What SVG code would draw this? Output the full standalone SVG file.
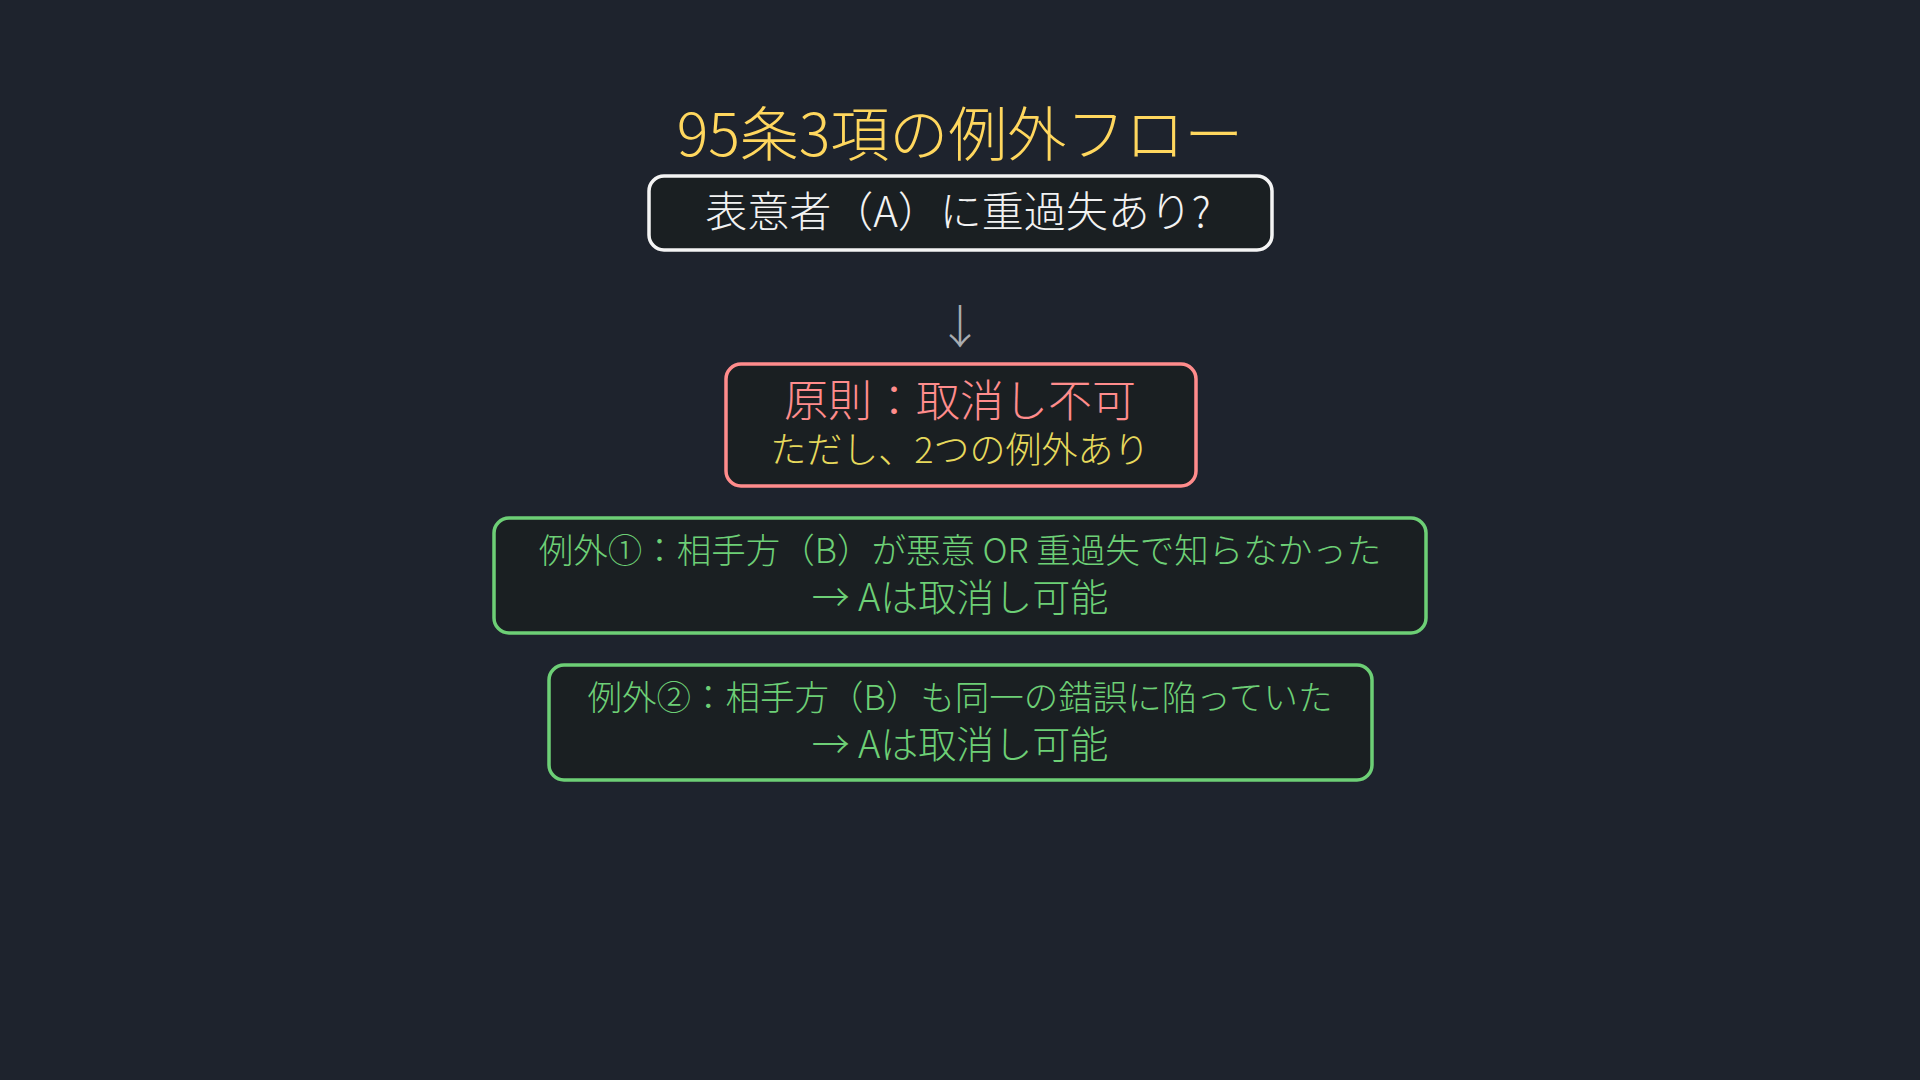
<svg xmlns="http://www.w3.org/2000/svg" width="1920" height="1080" viewBox="0 0 1920 1080">
<style>
text{font-family:"Noto Sans CJK JP","Noto Sans",sans-serif;text-anchor:middle;font-weight:300}
.box{fill:#1a1f22;stroke-width:3.5}
.title{font-size:59px;fill:#ffd75e}
.q{font-size:42px;fill:#f2f2f2}
.red{font-size:44px;fill:#ff8c8c}
.yel{font-size:36px;fill:#e6d95c}
.g1{font-size:34.5px;fill:#6dcf76}
.g2{font-size:38px;fill:#6dcf76}
.arr{font-size:46px;fill:#a8acb0}
</style>
<rect width="1920" height="1080" fill="#1e232d"/>
<g id="title"><text class="title" x="960" y="156">95条3項の例外フロー</text></g>
<g id="question">
<rect class="box" x="649" y="176" width="623" height="74" rx="15" stroke="#f4f4f4"/>
<text class="q" x="958" y="227">表意者（A）に重過失あり?</text>
</g>
<g id="connectors"><text class="arr" x="960" y="343">↓</text></g>
<g id="principle">
<rect class="box" x="726" y="364" width="470" height="122" rx="15" stroke="#ff8c8c"/>
<text class="red" x="960" y="417">原則：取消し不可</text>
<text class="yel" x="960" y="463">ただし、2つの例外あり</text>
</g>
<g id="exception1">
<rect class="box" x="494" y="518" width="932" height="115" rx="15" stroke="#6dcf76"/>
<text class="g1" x="960" y="563">例外①：相手方（B）が悪意 OR 重過失で知らなかった</text>
<text class="g2" x="960" y="611">→ Aは取消し可能</text>
</g>
<g id="exception2">
<rect class="box" x="549" y="665" width="823" height="115" rx="15" stroke="#6dcf76"/>
<text class="g1" x="960" y="710">例外②：相手方（B）も同一の錯誤に陥っていた</text>
<text class="g2" x="960" y="758">→ Aは取消し可能</text>
</g>
</svg>
